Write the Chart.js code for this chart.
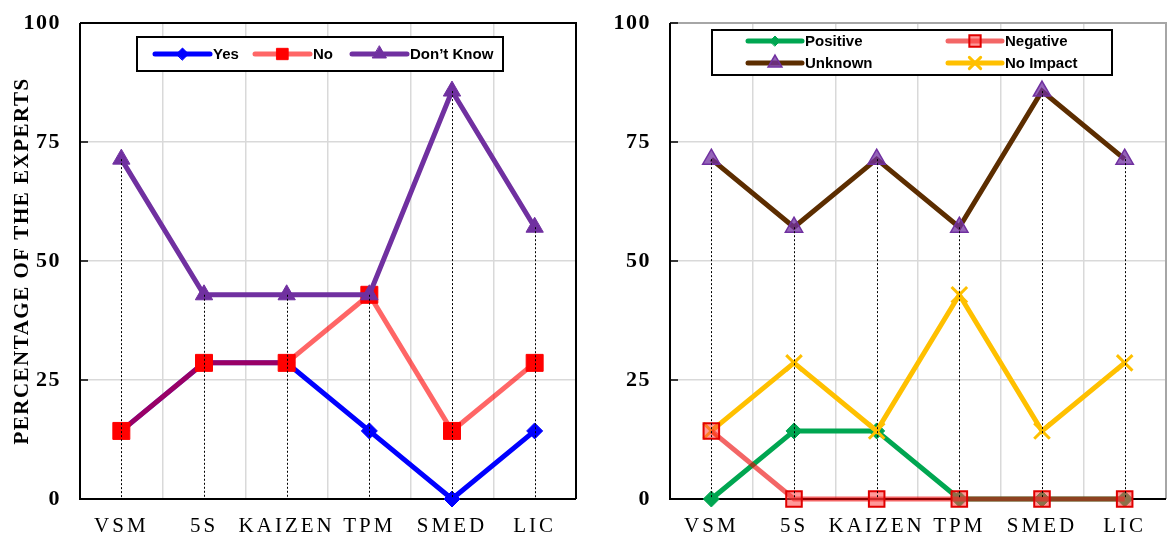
<!DOCTYPE html>
<html>
<head>
<meta charset="utf-8">
<script src="https://cdn.jsdelivr.net/npm/chart.js@4.4.0/dist/chart.umd.min.js"></script>
<style>
  html, body { margin: 0; padding: 0; background: #fff; }
  #wrap { position: relative; width: 1168px; height: 536px; }
  #leftBox { position: absolute; left: 0; top: 0; }
  #rightBox { position: absolute; left: 584px; top: 0; }
</style>
</head>
<body>
<div id="wrap">
  <div id="leftBox"><canvas id="expertsChart" width="584" height="536"></canvas></div>
  <div id="rightBox"><canvas id="impactChart" width="584" height="536"></canvas></div>
</div>
<script>
const categories = ['VSM', '5S', 'KAIZEN', 'TPM', 'SMED', 'LIC'];
const yTickStep = 25;

// left panel
const yesValues = [14.3, 28.6, 28.6, 14.3, 0, 14.3];
const noValues = [14.3, 28.6, 28.6, 42.9, 14.3, 28.6];
const dontKnowValues = [71.4, 42.9, 42.9, 42.9, 85.7, 57.1];

// right panel
const positiveValues = [0, 14.3, 14.3, 0, 0, 0];
const negativeValues = [14.3, 0, 0, 0, 0, 0];
const unknownValues = [71.4, 57.1, 71.4, 57.1, 85.7, 71.4];
const noImpactValues = [14.3, 28.6, 14.3, 42.9, 14.3, 28.6];

const GRID = '#D9D9D9';
const SERIF = "'Liberation Serif', 'Times New Roman', serif";

// frame, drop lines, inner ticks and the boxed legend
const panelExtras = {
    id: 'panelExtras',
    beforeDraw(chart) {
        chart.ctx.letterSpacing = '1.5px';
    },
    beforeDatasetsDraw(chart, args, opts) {
        const ctx = chart.ctx;
        const a = chart.chartArea;
        ctx.save();
        ctx.lineWidth = 2;
        ctx.strokeStyle = opts.frameColor;
        ctx.beginPath();
        ctx.moveTo(a.left, a.top);
        ctx.lineTo(a.right, a.top);
        ctx.lineTo(a.right, a.bottom);
        ctx.stroke();
        ctx.strokeStyle = '#000';
        ctx.beginPath();
        ctx.moveTo(a.left, a.top);
        ctx.lineTo(a.left, a.bottom);
        ctx.lineTo(a.right, a.bottom);
        ctx.stroke();
        // short ticks pointing inwards
        ctx.lineWidth = 1.5;
        chart.scales.y.ticks.forEach(t => {
            const py = chart.scales.y.getPixelForValue(t.value);
            ctx.beginPath();
            ctx.moveTo(a.left, py);
            ctx.lineTo(a.left + 8, py);
            ctx.stroke();
        });
        ctx.restore();
    },
    afterDatasetsDraw(chart) {
        const {ctx, chartArea: a, scales: {x, y}} = chart;
        ctx.save();
        ctx.strokeStyle = '#000';
        ctx.lineWidth = 1;
        ctx.setLineDash([2, 2]);
        categories.forEach((c, i) => {
            const top = Math.max(...chart.data.datasets.map(d => d.data[i]));
            const px = Math.round(x.getPixelForValue(i)) + 0.5;
            ctx.beginPath();
            ctx.moveTo(px, y.getPixelForValue(top));
            ctx.lineTo(px, a.bottom);
            ctx.stroke();
        });
        ctx.restore();
        ctx.letterSpacing = '3px'; // x tick labels are drawn after this (z: 1)
    },
    afterDraw(chart, args, opts) {
        const ctx = chart.ctx;
        ctx.letterSpacing = '0px';
        const box = opts.box;
        ctx.save();
        ctx.fillStyle = '#fff';
        ctx.fillRect(box.x, box.y, box.w, box.h);
        ctx.strokeStyle = '#000';
        ctx.lineWidth = 2;
        ctx.strokeRect(box.x, box.y, box.w, box.h);
        opts.items.forEach(it => {
            const ds = chart.data.datasets[it.ds];
            ctx.strokeStyle = ds.borderColor;
            ctx.lineWidth = 5;
            ctx.lineCap = 'round';
            ctx.beginPath();
            ctx.moveTo(it.x1, it.y);
            ctx.lineTo(it.x2, it.y);
            ctx.stroke();
            ctx.fillStyle = ds.pointBackgroundColor;
            ctx.strokeStyle = ds.pointBorderColor;
            ctx.lineWidth = ds.pointBorderWidth;
            Chart.helpers.drawPoint(ctx, {
                pointStyle: ds.pointStyle, radius: it.r, rotation: 0, borderWidth: ds.pointBorderWidth
            }, (it.x1 + it.x2) / 2, it.y);
            ctx.fillStyle = '#000';
            ctx.font = "bold 15px 'Liberation Sans', Arial, sans-serif";
            ctx.textBaseline = 'middle';
            ctx.textAlign = 'left';
            ctx.fillText(ds.label, it.x2 + 3, it.y + 1);
        });
        ctx.restore();
    }
};

function line(label, data, color, style, extra) {
    return Object.assign({
        label: label,
        data: data,
        borderColor: color,
        backgroundColor: color,
        borderWidth: 5,
        pointStyle: style,
        pointBackgroundColor: color,
        pointBorderColor: color,
        pointBorderWidth: 1,
        pointRadius: 9,
        tension: 0,
        fill: false,
        clip: false
    }, extra);
}

function panelOptions(axisWidth, titleText, padRight, frameColor, legend) {
    return {
        responsive: false,
        animation: false,
        events: [],
        layout: { autoPadding: false, padding: { top: 23, right: padRight, left: 0, bottom: 0 } },
        plugins: {
            legend: { display: false },
            tooltip: { enabled: false },
            panelExtras: Object.assign({ frameColor: frameColor }, legend)
        },
        scales: {
            x: {
                type: 'category',
                offset: true,
                grid: { offset: true, color: GRID, lineWidth: 1.5, drawTicks: false },
                border: { display: false },
                ticks: {
                    color: '#000', z: 1, padding: 15, maxRotation: 0, autoSkip: false,
                    font: { family: SERIF, size: 21 }
                },
                afterFit(s) { s.height = 37; }
            },
            y: {
                min: 0,
                max: 100,
                // invisible outer ticks keep the labels away from the axis
                grid: { color: GRID, lineWidth: 1.5, drawTicks: true, tickLength: 10, tickColor: 'rgba(0,0,0,0)' },
                border: { display: false },
                ticks: {
                    stepSize: yTickStep, color: '#000', z: 0, padding: 9,
                    font: { family: SERIF, size: 22, weight: 'bold' }
                },
                title: {
                    display: !!titleText,
                    text: titleText,
                    color: '#000',
                    padding: { top: 10, bottom: 0 },
                    font: { family: SERIF, size: 21, weight: 'bold' }
                },
                afterFit(s) { s.width = axisWidth; }
            }
        }
    };
}

new Chart(document.getElementById('expertsChart'), {
    type: 'line',
    data: {
        labels: categories,
        datasets: [
            line('Yes', yesValues, '#0000FF', 'rectRot', { pointRadius: 8, order: 3 }),
            line('No', noValues, 'rgba(255,0,0,0.6)', 'rect', {
                pointRadius: 12, pointBackgroundColor: '#FF0000', pointBorderColor: '#FF0000', order: 2
            }),
            line('Don\u2019t Know', dontKnowValues, '#7030A0', 'triangle', { pointRadius: 10, order: 1 })
        ]
    },
    options: panelOptions(80, 'PERCENTAGE OF THE EXPERTS', 8, '#000', {
        box: { x: 137, y: 37, w: 366, h: 34 },
        items: [
            { ds: 0, x1: 155, x2: 210, y: 54, r: 6 },
            { ds: 1, x1: 255, x2: 310, y: 54, r: 8 },
            { ds: 2, x1: 352, x2: 407, y: 54, r: 8 }
        ]
    }),
    plugins: [panelExtras]
});

new Chart(document.getElementById('impactChart'), {
    type: 'line',
    data: {
        labels: categories,
        datasets: [
            line('Positive', positiveValues, '#00A651', 'rectRot', { pointRadius: 8, order: 4 }),
            line('Negative', negativeValues, 'rgba(235,0,0,0.6)', 'rect', {
                pointRadius: 11, pointBackgroundColor: 'rgba(255,70,70,0.55)', pointBorderColor: '#E00000',
                pointBorderWidth: 2, order: 2
            }),
            line('Unknown', unknownValues, '#5C2D00', 'triangle', {
                pointRadius: 10, pointBackgroundColor: 'rgba(112,48,160,0.75)', pointBorderColor: '#7030A0',
                pointBorderWidth: 1.5, order: 1
            }),
            line('No Impact', noImpactValues, '#FFC000', 'crossRot', {
                pointRadius: 11, pointBorderWidth: 3, order: 3
            })
        ]
    },
    options: panelOptions(86, '', 2, '#A6A6A6', {
        box: { x: 128, y: 30, w: 400, h: 45 },
        items: [
            { ds: 0, x1: 164, x2: 218, y: 41, r: 5 },
            { ds: 1, x1: 364, x2: 418, y: 41, r: 8 },
            { ds: 2, x1: 164, x2: 218, y: 63, r: 8 },
            { ds: 3, x1: 364, x2: 418, y: 63, r: 8 }
        ]
    }),
    plugins: [panelExtras]
});
</script>
</body>
</html>
